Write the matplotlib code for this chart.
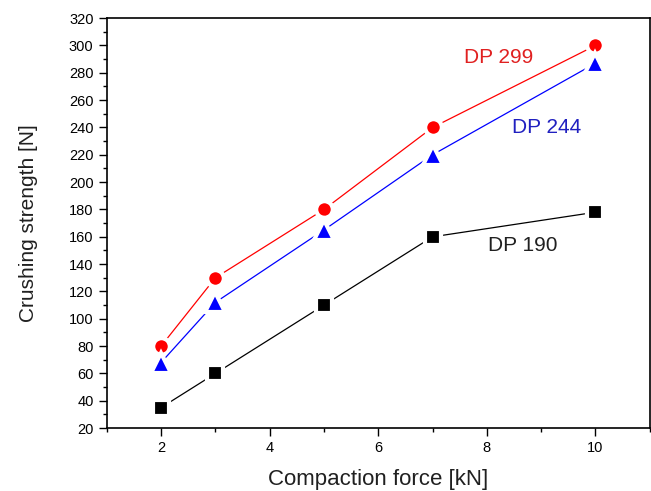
import matplotlib
matplotlib.use('Agg')
import matplotlib.pyplot as plt
from matplotlib.ticker import MultipleLocator

force = [2, 3, 5, 7, 10]
dp299 = [80, 130, 180, 240, 300]
dp244 = [68, 112, 165, 220, 287]
dp190 = [35, 60, 110, 160, 178]

plt.rcParams['font.family'] = ['Liberation Sans', 'DejaVu Sans']

fig = plt.figure(figsize=(6.51, 4.91), dpi=100)
ax = fig.add_axes([0.164, 0.128, 0.834, 0.835])

ax.plot(force, dp299, color='red', lw=0.9, marker='o', ms=12, mfc='red',
        mec='white', mew=3, zorder=3)
ax.plot(force, dp244, color='blue', lw=0.9, marker='^', ms=14, mfc='blue',
        mec='white', mew=3, zorder=3)
ax.plot(force, dp190, color='black', lw=0.9, marker='s', ms=11, mfc='black',
        mec='white', mew=3, zorder=3)

ax.text(8.22, 291, 'DP 299', color='#e02020', fontsize=15, ha='center', va='center')
ax.text(9.1, 240, 'DP 244', color='#2020c0', fontsize=15, ha='center', va='center')
ax.text(8.67, 154, 'DP 190', color='#202020', fontsize=15, ha='center', va='center')

ax.set_xlim(1, 11)
ax.set_ylim(20, 320)
ax.xaxis.set_major_locator(MultipleLocator(2))
ax.xaxis.set_minor_locator(MultipleLocator(1))
ax.yaxis.set_major_locator(MultipleLocator(20))
ax.yaxis.set_minor_locator(MultipleLocator(10))
ax.tick_params(which='major', direction='out', length=6, width=1, labelsize=10.5)
ax.tick_params(which='minor', direction='out', length=3, width=1)
for s in ax.spines.values():
    s.set_linewidth(1.2)

ax.set_xlabel('Compaction force [kN]', fontsize=16, labelpad=10, color='#202020')
ax.set_ylabel('Crushing strength [N]', fontsize=15, labelpad=22, color='#202020')

fig.savefig('out.png', dpi=100)
